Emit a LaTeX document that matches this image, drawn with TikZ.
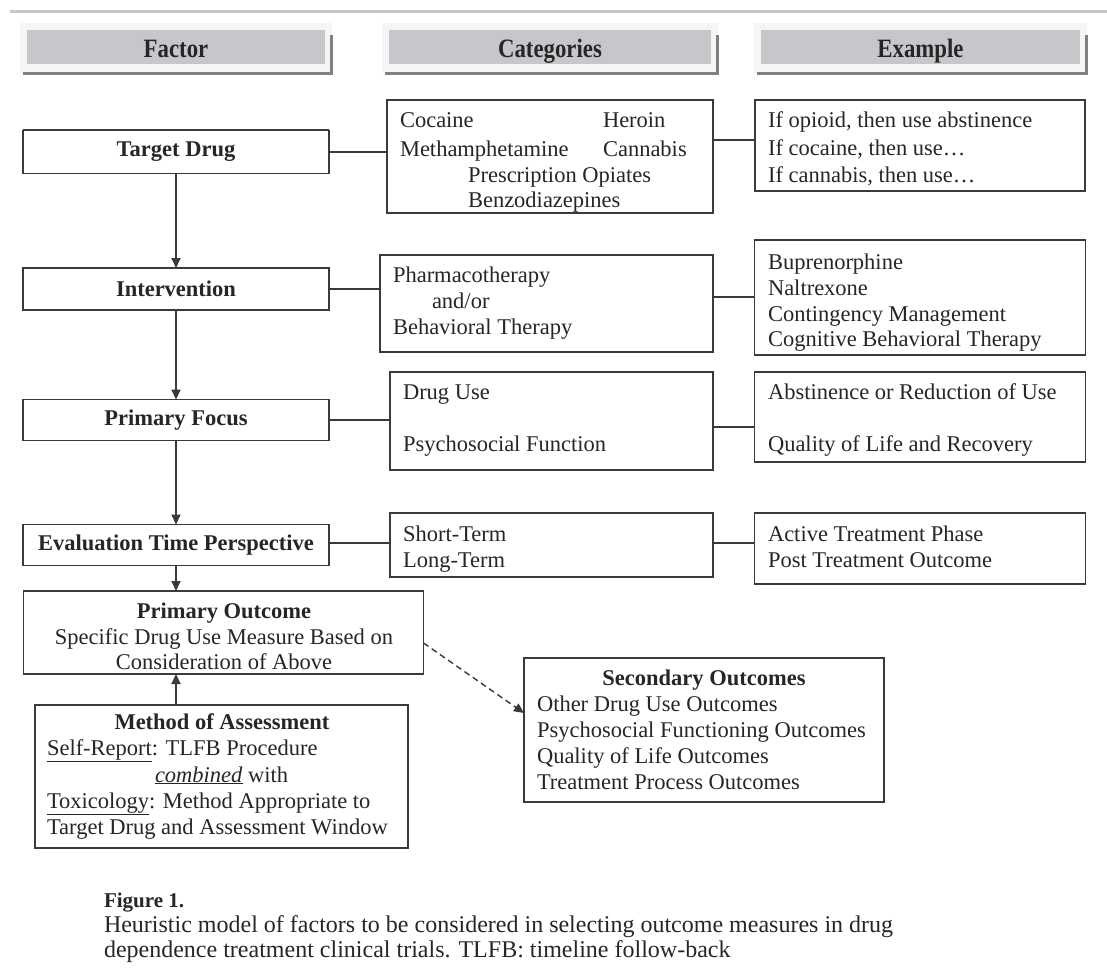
\documentclass[tikz,border=0pt]{standalone}
\usepackage{fontspec}
\setmainfont{Liberation Serif}
\usetikzlibrary{arrows.meta}
\definecolor{hdrgray}{HTML}{C6C7CA}
\definecolor{ink}{HTML}{262626}
\definecolor{edge}{HTML}{3A3A3A}
\tikzset{
  every node/.style={font=\fontsize{22.5}{26}\selectfont, text=ink, inner sep=0pt, outer sep=0pt},
  box/.style={draw=edge, line width=1.8pt, fill=white},
  lbl/.style={font=\fontsize{22.5}{26}\selectfont\bfseries},
  txt/.style={anchor=base west},
  ctxt/.style={anchor=base},
  captxt/.style={anchor=base west, font=\fontsize{24}{26}\selectfont},
  conn/.style={draw=edge, line width=1.8pt},
  arr/.style={conn, -{Triangle[length=10pt,width=9pt]}},
  hdrframe/.style={fill=black!4, draw=none},
  hdrshadow/.style={fill=black!50, draw=none},
  hdrbar/.style={fill=hdrgray, draw=none},
  hdrtext/.style={anchor=base, font=\fontsize{26.5}{28}\selectfont\bfseries}
}
\begin{document}
\begin{tikzpicture}[x=1pt,y=-1pt]
\useasboundingbox[fill=white] (0,0) rectangle (1107,979);
% top rule
\fill[black!22] (10,10) rectangle (1107,13);
% header bars
\foreach \xa/\xb/\nm/\t in {24/330/hf/Factor, 386/716/hc/Categories, 758/1085/he/Example}{
  \fill[hdrframe] (\xa-4,23) rectangle (\xb+2,73);
  \fill[hdrshadow] (\xa-1,72) rectangle (\xb+3,75.5);
  \fill[hdrshadow] (\xb,35) rectangle (\xb+3,75.5);
  \fill[hdrbar] (\xa+3,30) rectangle (\xb-5,64);
  \node[hdrtext] (\nm) at ({(\xa+\xb)/2-1},57.5) {\scalebox{0.86}[1]{\t}};
}
% factor column
\node[box, minimum width=306, minimum height=43] (td) at (176,152) {};
\draw[edge, line width=1.2pt] (td.north west) ++(0,-1) -- ([yshift=1pt]td.north east);
\node[lbl] (tdl) at (td.center) {Target Drug};
\node[box, minimum width=306, minimum height=42] (iv) at (176,289) {};
\node[lbl] (ivl) at (iv.center) {Intervention};
\node[box, minimum width=306, minimum height=41] (pf) at (176,420) {};
\node[lbl] (pfl) at (pf.center) {Primary Focus};
\node[box, minimum width=306, minimum height=41] (ev) at (176,545) {};
\node[lbl] (evl) at (ev.center) {Evaluation Time Perspective};
\node[box, minimum width=400, minimum height=83] (po) at (223.5,632.5) {};
\node[box, minimum width=373, minimum height=143] (ma) at (221.5,776.5) {};
% category column
\node[box, minimum width=326, minimum height=113] (c1) at (550,156.5) {};
\node[box, minimum width=333, minimum height=97] (c2) at (546.5,303.5) {};
\node[box, minimum width=323, minimum height=98] (c3) at (551.5,421) {};
\node[box, minimum width=323, minimum height=64] (c4) at (551.5,545) {};
% example column
\node[box, minimum width=330, minimum height=91] (e1) at (920,145.5) {};
\node[box, minimum width=331, minimum height=115] (e2) at (920,297.5) {};
\node[box, minimum width=331, minimum height=90] (e3) at (920,417) {};
\node[box, minimum width=331, minimum height=71] (e4) at (920,548.5) {};
% secondary outcomes
\node[box, minimum width=360, minimum height=144] (so) at (704,730) {};

% texts: category 1
\node[txt] (t11) at (400,128) {Cocaine};
\node[txt] (t12) at (603,128) {Heroin};
\node[txt] (t13) at (400,156) {Methamphetamine};
\node[txt] (t14) at (603,156) {Cannabis};
\node[txt] (t15) at (468,182) {Prescription Opiates};
\node[txt] (t16) at (468,207) {Benzodiazepines};
% example 1
\node[txt] (x11) at (768,128) {If opioid, then use abstinence};
\node[txt] (x12) at (768,155) {If cocaine, then use…};
\node[txt] (x13) at (768,182) {If cannabis, then use…};
% category 2
\node[txt] (t21) at (393,282) {Pharmacotherapy};
\node[txt] (t22) at (432,308) {and/or};
\node[txt] (t23) at (393,334) {Behavioral Therapy};
% example 2
\node[txt] (x21) at (768,269) {Buprenorphine};
\node[txt] (x22) at (768,295) {Naltrexone};
\node[txt] (x23) at (768,321) {Contingency Management};
\node[txt] (x24) at (768,346) {Cognitive Behavioral Therapy};
% category 3
\node[txt] (t31) at (403,399) {Drug Use};
\node[txt] (t32) at (403,451) {Psychosocial Function};
% example 3
\node[txt] (x31) at (768,399) {Abstinence or Reduction of Use};
\node[txt] (x32) at (768,451) {Quality of Life and Recovery};
% category 4
\node[txt] (t41) at (403,541) {Short-Term};
\node[txt] (t42) at (403,567) {Long-Term};
% example 4
\node[txt] (x41) at (768,541) {Active Treatment Phase};
\node[txt] (x42) at (768,567) {Post Treatment Outcome};
% primary outcome
\node[ctxt, lbl] (p1) at (224,618) {Primary Outcome};
\node[ctxt] (p2) at (224,644) {Specific Drug Use Measure Based on};
\node[ctxt] (p3) at (224,669) {Consideration of Above};
% method of assessment
\node[ctxt, lbl] (m1) at (222,729) {Method of Assessment};
\node[txt] (m2) at (47,755) {\underline{Self-Report}: TLFB Procedure};
\node[txt] (m3) at (155,782) {\underline{\textit{combined}} with};
\node[txt] (m4) at (47,808) {\underline{Toxicology}: Method Appropriate to};
\node[txt] (m5) at (47,834) {Target Drug and Assessment Window};
% secondary outcomes
\node[ctxt, lbl] (s1) at (704,685) {Secondary Outcomes};
\node[txt] (s2) at (537,711) {Other Drug Use Outcomes};
\node[txt] (s3) at (537,737) {Psychosocial Functioning Outcomes};
\node[txt] (s4) at (537,763) {Quality of Life Outcomes};
\node[txt] (s5) at (537,789) {Treatment Process Outcomes};
% caption
\node[txt, font=\fontsize{21}{24}\selectfont\bfseries] (f1) at (104,907) {Figure 1.};
\node[captxt] (f2) at (104,932) {Heuristic model of factors to be considered in selecting outcome measures in drug};
\node[captxt] (f3) at (104,957) {dependence treatment clinical trials. TLFB: timeline follow-back};

% connectors
\draw[conn] (td.east) -- (td.east -| c1.west);
\draw[conn] (c1.east |- 0,140) -- (e1.west |- 0,140);
\draw[conn] (iv.east) -- (iv.east -| c2.west);
\draw[conn] (c2.east |- 0,297) -- (e2.west |- 0,297);
\draw[conn] (pf.east) -- (pf.east -| c3.west);
\draw[conn] (c3.east |- 0,427) -- (e3.west |- 0,427);
\draw[conn] (ev.east |- 0,543) -- (c4.west |- 0,543);
\draw[conn] (c4.east |- 0,543) -- (e4.west |- 0,543);
\draw[arr] (td.south) -- (iv.north);
\draw[arr] (iv.south) -- (pf.north);
\draw[arr] (pf.south) -- (ev.north);
\draw[arr] (ev.south) -- (po.north -| ev.south);
\draw[arr] (ma.north -| ev.south) -- (po.south -| ev.south);
\coordinate (dstart) at (po.east |- 0,643);
\coordinate (dend) at (so.west |- 0,713);
\draw[arr, dash pattern=on 6pt off 4pt, line width=1.4pt] (dstart) -- (dend);
\end{tikzpicture}
\end{document}
